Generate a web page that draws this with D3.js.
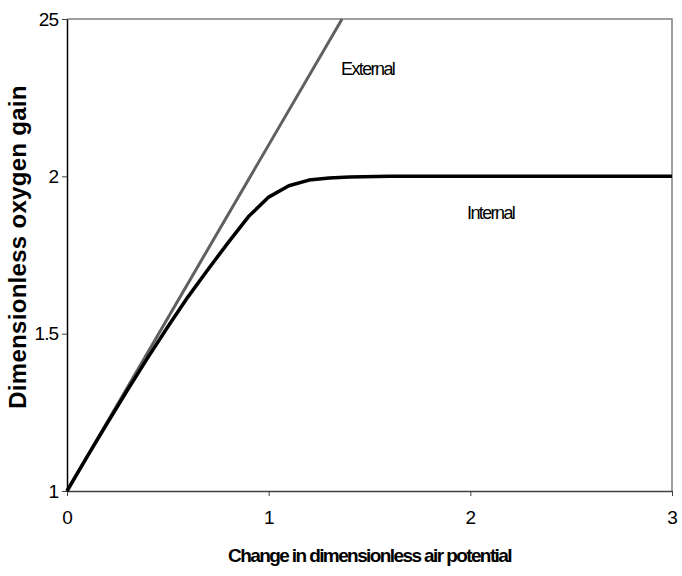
<!DOCTYPE html>
<html lang="en">
<head>
    <meta charset="UTF-8">
    <title>Dimensionless oxygen gain</title>
    <script src="https://d3js.org/d3.v7.min.js"></script>
    <style>
        body {
            margin: 0;
            background: #fff;
            font-family: Arial, "Liberation Sans", sans-serif;
        }
        .tick text {
            font-size: 19px;
            fill: #000;
        }
        .label {
            font-size: 18px;
            letter-spacing: -1.6px;
        }
    </style>
</head>
<body>
    <svg id="chart" width="682" height="576"></svg>

    <script>
        // internal curve
        const internalX = [0, 0.1, 0.2, 0.3, 0.4, 0.5, 0.6, 0.7, 0.8, 0.9, 1.0, 1.1, 1.2, 1.3, 1.4, 1.6, 2, 2.5, 3];
        const internalY = [1, 1.109, 1.216, 1.321, 1.423, 1.522, 1.617, 1.705, 1.79, 1.872, 1.934, 1.970, 1.988, 1.995, 1.998, 2, 2, 2, 2];

        // external straight line
        const externalX = [0, 1.364];
        const externalY = [1, 2.5];

        const xTicks = [0, 1, 2, 3];
        const yTicks = [1, 1.5, 2, 2.5];
        const yTickLabels = ["1", "1.5", "2", "25"];

        const svg = d3.select("#chart");
        const plotLeft = 67, plotRight = 672, plotTop = 19, plotBottom = 491;

        const x = d3.scaleLinear().domain([0, 3]).range([plotLeft, plotRight]);
        const y = d3.scaleLinear().domain([1, 2.5]).range([plotBottom, plotTop]);

        // frame (top and right)
        svg.append("path")
            .attr("d", `M${plotLeft},${plotTop}H${plotRight}V${plotBottom}`)
            .attr("fill", "none")
            .attr("stroke", "#808080")
            .attr("stroke-width", 1.5);

        const xAxis = svg.append("g")
            .attr("transform", `translate(0,${plotBottom})`)
            .call(d3.axisBottom(x).tickValues(xTicks).tickFormat(d3.format("d")).tickSize(5).tickPadding(15).tickSizeOuter(0));
        xAxis.select(".domain").attr("stroke", "#404040").attr("stroke-width", 1.5);
        xAxis.selectAll(".tick line").attr("stroke", "#404040");

        const yAxis = svg.append("g")
            .attr("transform", `translate(${plotLeft},0)`)
            .call(d3.axisLeft(y).tickValues(yTicks).tickFormat((d, i) => yTickLabels[i]).tickSize(5).tickPadding(4).tickSizeOuter(0));
        yAxis.select(".domain").attr("stroke", "#000").attr("stroke-width", 1.5);
        yAxis.selectAll(".tick line").attr("stroke", "#404040");
        yAxis.selectAll(".tick text").attr("letter-spacing", "-1px");

        const line = d3.line()
            .x(d => x(d[0]))
            .y(d => y(d[1]));

        svg.append("path")
            .datum(externalX.map((v, i) => [v, externalY[i]]))
            .attr("d", line)
            .attr("fill", "none")
            .attr("stroke", "#606060")
            .attr("stroke-width", 3);

        svg.append("path")
            .datum(internalX.map((v, i) => [v, internalY[i]]))
            .attr("d", line)
            .attr("fill", "none")
            .attr("stroke", "#000")
            .attr("stroke-width", 3.5)
            .attr("stroke-linejoin", "round");

        svg.append("text")
            .attr("class", "label")
            .attr("x", 341).attr("y", 75)
            .text("External");

        svg.append("text")
            .attr("class", "label")
            .attr("x", 467).attr("y", 219)
            .text("Internal");

        svg.append("text")
            .attr("x", (plotLeft + plotRight) / 2).attr("y", 562)
            .attr("text-anchor", "middle")
            .attr("font-size", 19)
            .attr("font-weight", "bold")
            .attr("letter-spacing", "-1.6px")
            .text("Change in dimensionless air potential");

        svg.append("text")
            .attr("transform", "translate(26,247) rotate(-90)")
            .attr("text-anchor", "middle")
            .attr("font-size", 24)
            .attr("font-weight", "bold")
            .attr("letter-spacing", "0.3px")
            .text("Dimensionless oxygen gain");
    </script>
</body>
</html>
